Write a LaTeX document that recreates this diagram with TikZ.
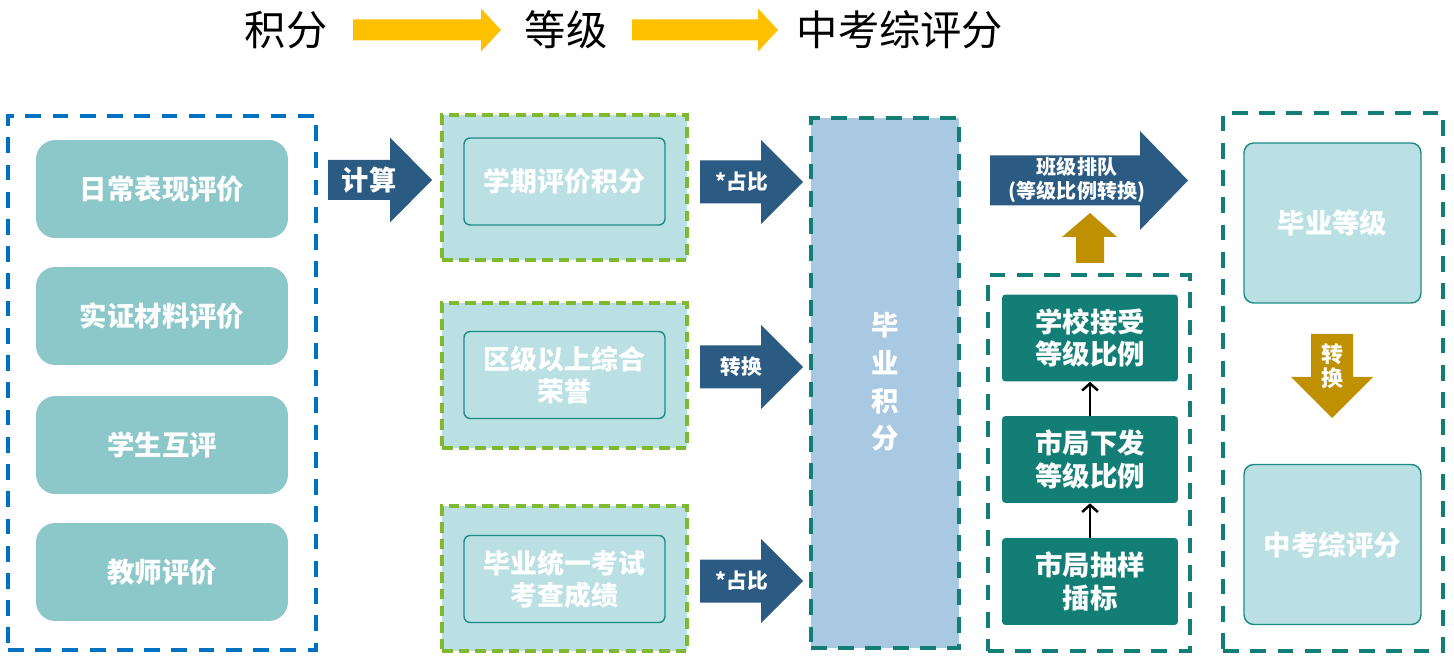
\documentclass[tikz,border=0pt]{standalone}
\usepackage{fontspec}
\setmainfont{Noto Sans CJK SC}
\usetikzlibrary{arrows.meta}
\definecolor{dashblue}{HTML}{0070C0}
\definecolor{evalfill}{HTML}{8CC7C9}
\definecolor{navyarrow}{HTML}{2B5A83}
\definecolor{limegreen}{HTML}{7FBA2E}
\definecolor{palefill}{HTML}{BAE0E3}
\definecolor{tealline}{HTML}{137E76}
\definecolor{tealedge}{HTML}{1E8A84}
\definecolor{colfill}{HTML}{A9C8E1}
\definecolor{goldarrow}{HTML}{BF9000}
\definecolor{titlearrow}{HTML}{FFC000}
\tikzstyle{titletext}=[font=\fontsize{23.5}{26}\selectfont, text=black]
\tikzstyle{bigtext}=[text=white, font=\bfseries\fontsize{15.6}{18}\selectfont, align=center]
\tikzstyle{arrowtext}=[text=white, font=\bfseries\fontsize{11.8}{14}\selectfont, align=center]
\tikzstyle{evalbox}=[bigtext, rectangle, rounded corners=11pt, fill=evalfill, minimum width=5.04cm, minimum height=1.96cm]
\tikzstyle{greenframe}=[draw=limegreen, fill=palefill, line width=2pt, dash pattern=on 6pt off 3.5pt, minimum width=4.9cm, minimum height=2.9cm]
\tikzstyle{palebox}=[bigtext, draw=tealedge, fill=palefill, line width=0.8pt, rounded corners=3.5pt]
\tikzstyle{tealbox}=[bigtext, fill=tealline, rounded corners=2pt, minimum width=3.52cm, minimum height=1.74cm, font=\bfseries\fontsize{15.6}{18.5}\selectfont]
\tikzstyle{frame}=[line width=2pt, dash pattern=on 9pt off 6.5pt]
\tikzstyle{edge}=[draw, -{Straight Barb[length=4pt, width=9pt]}, line width=1.4pt]

\begin{document}
\begin{tikzpicture}[x=0.02cm, y=-0.02cm]
    \useasboundingbox (0,0) rectangle (1454,658);
    % title row
    \node[titletext] (points) at (286,30) {积分};
    \node[titletext] (grade) at (566,30) {等级};
    \node[titletext] (final) at (900,30) {中考综评分};
    \foreach \xs/\xb/\xt in {353/481/501, 632/758/778}
        \fill[titlearrow] (\xs,19.5) -- (\xb,19.5) -- (\xb,8.5) -- (\xt,30) -- (\xb,51.5) -- (\xb,40.5) -- (\xs,40.5) -- cycle;

    % left column: the four evaluations
    \node[frame, draw=dashblue, minimum width=6.16cm, minimum height=10.68cm] (evalframe) at (162,383) {};
    \foreach \y/\name/\txt in {189/daily/日常表现评价, 316/proof/实证材料评价, 445/peer/学生互评, 572/teacher/教师评价}
        \node[evalbox] (\name) at (162,\y) {\txt};

    % block arrows
    \fill[navyarrow] (328,160) -- (390,160) -- (390,137.5) -- (432,180) -- (390,222.5) -- (390,200) -- (328,200) -- cycle;
    \node[arrowtext, font=\bfseries\fontsize{15.5}{18}\selectfont] (calc) at (369,180) {计算};
    \foreach \yc/\name/\txt/\xm in {182/ratioa/*占比/742, 367/convert/转换/741, 581/ratiob/*占比/742} {
        \fill[navyarrow] (700,\yc-21.5) -- (761,\yc-21.5) -- (761,\yc-42) -- (803,\yc) -- (761,\yc+42) -- (761,\yc+21.5) -- (700,\yc+21.5) -- cycle;
        \node[arrowtext] (\name) at (\xm,\yc) {\txt};
    }

    % middle column: three score sources
    \foreach \yo/\yi/\name/\txt in {187.5/181.5/term/学期评价积分, 375.5/375/honor/{区级以上综合\\荣誉}, 578.5/579/exam/{毕业统一考试\\考查成绩}} {
        \node[greenframe] (\name frame) at (564.5,\yo) {};
        \node[palebox, minimum width=4.02cm, minimum height=1.74cm, font=\bfseries\fontsize{15.3}{18.2}\selectfont] (\name) at (564.5,\yi) {\txt};
    }

    % graduation points
    \node[frame, draw=tealline, fill=colfill, minimum width=2.96cm, minimum height=10.6cm] (gradcol) at (885,383) {};
    \node[bigtext, font=\bfseries\fontsize{15.6}{21.5}\selectfont] (gradtext) at (885,382) {毕\\业\\积\\分};

    % ranking arrow and proportion chain
    \fill[navyarrow] (990,155.5) -- (1140,155.5) -- (1140,131) -- (1188,180.5) -- (1140,230) -- (1140,205.5) -- (990,205.5) -- cycle;
    \node[arrowtext, font=\bfseries\fontsize{11.4}{14}\selectfont] (rank) at (1077,180) {班级排队\\(等级比例转换)};
    \fill[goldarrow] (1076,263) -- (1076,237) -- (1062,237) -- (1090,213) -- (1117,237) -- (1104,237) -- (1104,263) -- cycle;
    \node[frame, draw=tealline, minimum width=4.04cm, minimum height=7.52cm] (chainframe) at (1089,463) {};
    \node[tealbox] (accept) at (1090,338) {学校接受\\等级比例};
    \node[tealbox] (issue) at (1090,459.5) {市局下发\\等级比例};
    \node[tealbox] (sample) at (1090,581.5) {市局抽样\\插标};
    \path[edge] (sample) -- (issue);
    \path[edge] (issue) -- (accept);

    % right column: grade to score
    \node[frame, draw=tealline, minimum width=4.4cm, minimum height=10.76cm] (resultframe) at (1333,382) {};
    \node[palebox, minimum width=3.54cm, minimum height=3.2cm, rounded corners=5.5pt] (gradlevel) at (1332.5,223) {毕业等级};
    \node[palebox, minimum width=3.54cm, minimum height=3.2cm, rounded corners=5.5pt] (examscore) at (1332.5,544.5) {中考综评分};
    \fill[goldarrow] (1311,334) -- (1353,334) -- (1353,377) -- (1373,377) -- (1332,418) -- (1291,377) -- (1311,377) -- cycle;
    \node[arrowtext, font=\bfseries\fontsize{12.5}{14}\selectfont] (gradconvert) at (1332,366) {转\\换};
\end{tikzpicture}
\end{document}
